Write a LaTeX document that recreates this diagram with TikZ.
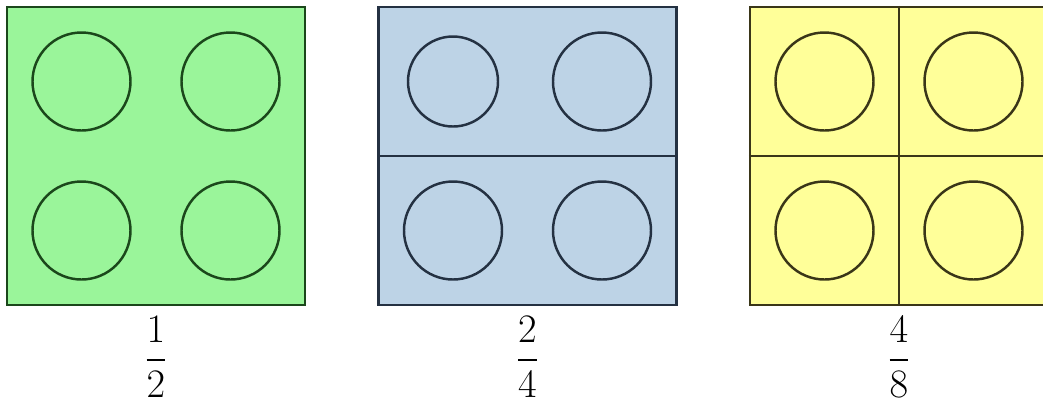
\documentclass[tikz,border=0pt]{standalone}
\usepackage{fix-cm}
\usepackage{amsmath}
\usepackage{tikz}
\usetikzlibrary{positioning}
\definecolor{gfill}{HTML}{9AF59A}
\definecolor{gline}{HTML}{1B471B}
\definecolor{bfill}{HTML}{BDD3E6}
\definecolor{bline}{HTML}{243142}
\definecolor{yfill}{HTML}{FFFF99}
\definecolor{yline}{HTML}{3A3618}

\begin{document}
\begin{tikzpicture}[
      tile/.style={rectangle, draw=#1line, fill=#1fill, line width=1.4pt,
      minimum size=5.96cm, inner sep=0pt},
      dot/.style={circle, draw=#1line, line width=1.4pt, inner sep=0pt},
      cut/.style={line width=1.4pt, #1line},
      frac/.style={inner sep=0pt, font=\fontsize{23}{27}\selectfont},
    ]
    \clip (0,0) rectangle (20.86,-8.1);

    % Tiles
    \node[tile=g] (green) at (3.12,-3.12) {};
    \node[tile=b] (blue) at (10.55,-3.12) {};
    \node[tile=y] (yellow) at (17.98,-3.12) {};

    % Dividing lines
    \draw[cut=b] (blue.west) -- (blue.east);
    \draw[cut=y] (yellow.west) -- (yellow.east);
    \draw[cut=y] (yellow.north) -- (yellow.south);

    % Circles
    \foreach \dx/\dy/\n in {-1.49/1.49/1, 1.49/1.49/2, -1.49/-1.49/3, 1.49/-1.49/4} {
      \node[dot=g, minimum size=1.96cm] (g\n) at ([shift={(\dx,\dy)}]green.center) {};
      \node[dot=y, minimum size=1.96cm] (y\n) at ([shift={(\dx,\dy)}]yellow.center) {};
    }
    \foreach \dx/\dy/\n/\d in {-1.49/1.49/1/1.8, 1.49/1.49/2/1.96,
      -1.49/-1.49/3/1.96, 1.49/-1.49/4/1.96} {
      \node[dot=b, minimum size=\d cm] (b\n) at ([shift={(\dx,\dy)}]blue.center) {};
    }

    % Fractions
    \node[frac, below=0.2cm of green] (half) {$\dfrac{1}{2}$};
    \node[frac, below=0.2cm of blue] (twofourths) {$\dfrac{2}{4}$};
    \node[frac, below=0.2cm of yellow] (foureighths) {$\dfrac{4}{8}$};
  \end{tikzpicture}
\end{document}
